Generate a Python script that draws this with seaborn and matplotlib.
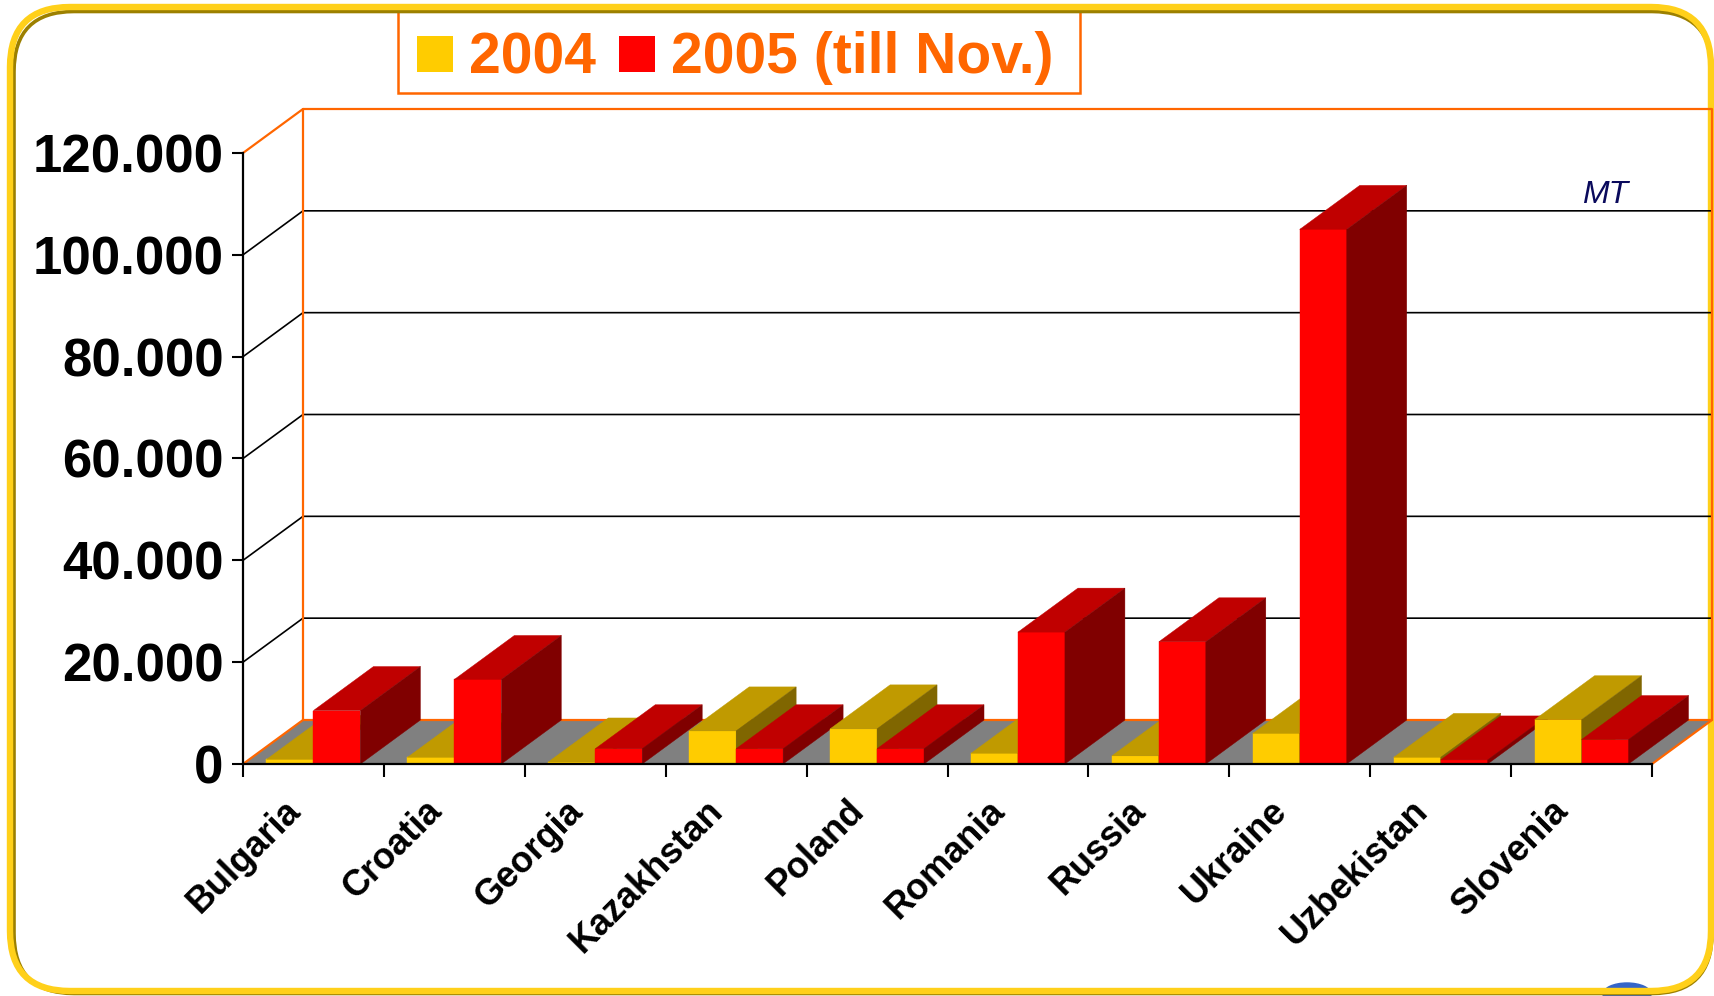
import numpy as np
import pandas as pd
import matplotlib.pyplot as plt
import seaborn as sns
from matplotlib.patches import Polygon, Rectangle, FancyBboxPatch, Ellipse
from matplotlib.transforms import ScaledTranslation

# Data (MT)
countries = ['Bulgaria', 'Croatia', 'Georgia', 'Kazakhstan', 'Poland',
             'Romania', 'Russia', 'Ukraine', 'Uzbekistan', 'Slovenia']
mt_2004 = [900, 1300, 400, 6500, 6900, 2100, 1600, 6000, 1300, 8700]
mt_2005 = [10500, 16600, 3000, 3000, 3000, 25900, 24000, 105000, 800, 4800]
years = ['2004', '2005 (till Nov.)']
y_ticks = [0, 20000, 40000, 60000, 80000, 100000, 120000]
y_tick_labels = ['0', '20.000', '40.000', '60.000', '80.000', '100.000', '120.000']

front_colors = ['#FFCC00', '#FF0000']
top_colors = ['#C09A00', '#C00000']
side_colors = ['#806600', '#800000']
orange = '#FF6600'

df = pd.DataFrame({
    'country': countries * 2,
    'year': [years[0]] * len(countries) + [years[1]] * len(countries),
    'mt': mt_2004 + mt_2005,
})

sns.set_style('white')
plt.rcParams['font.family'] = ['Liberation Sans', 'DejaVu Sans']
plt.rcParams['text.color'] = 'black'
plt.rcParams['xtick.color'] = 'black'
plt.rcParams['ytick.color'] = 'black'

W, H = 1715, 996
fig = plt.figure(figsize=(W / 100, H / 100), dpi=100)

# Background layer in pixel coordinates: rounded frame + legend
bg = fig.add_axes([0, 0, 1, 1])
bg.set_xlim(0, W)
bg.set_ylim(H, 0)
bg.axis('off')
bg.add_patch(Ellipse((1627, 994), 48, 22, color='#3565C8', zorder=1))
bg.add_patch(FancyBboxPatch((14, 11.5), 1698, 982, boxstyle='round,pad=0,rounding_size=60',
                            fill=False, ec='#9C8000', lw=2.6, zorder=2, clip_on=False))
bg.add_patch(FancyBboxPatch((10, 7), 1701, 984, boxstyle='round,pad=0,rounding_size=60',
                            fill=False, ec='#FFD01A', lw=4.6, zorder=3, clip_on=False))

# Legend
bg.add_patch(Rectangle((398, 8), 682, 85, fill=False, ec=orange, lw=1.8))
for i, (label, x_sq) in enumerate(zip(years, [417, 619])):
    bg.add_patch(Rectangle((x_sq, 36), 36, 36, color=front_colors[i], lw=0))
    bg.text(x_sq + 52, 73, label, color=orange, fontsize=41, fontweight='bold',
            va='baseline', ha='left')

# Main axes (front plane of the 3D chart)
x_left, x_right, y_zero, y_top = 243, 1652, 764, 153
ax = fig.add_axes([x_left / W, (H - y_zero) / H, (x_right - x_left) / W, (y_zero - y_top) / H])
ax.set_zorder(2)
ax.patch.set_alpha(0)

sns.barplot(data=df, x='country', y='mt', hue='year', order=countries, hue_order=years,
            palette=front_colors, saturation=1, width=2 / 3, legend=False,
            errorbar=None, linewidth=0, ax=ax)

ax.set_xlim(-0.5, len(countries) - 0.5)
ax.set_ylim(0, 120000)

# depth of the 3D effect, converted from pixels to data units
dx = 60 / ((x_right - x_left) / len(countries))
dy = 44 / ((y_zero - y_top) / 120000)
x0w, x1w = -0.5, len(countries) - 0.5
ymax = 120000

# floor
ax.add_patch(Polygon([(x0w, 0), (x1w, 0), (x1w + dx, dy), (x0w + dx, dy)],
                     closed=True, fc='#808080', ec='none', zorder=1, clip_on=False))
# back wall grid
for v in y_ticks[1:-1]:
    ax.plot([x0w, x0w + dx, x1w + dx], [v, v + dy, v + dy], color='black', lw=1.2,
            zorder=1.5, clip_on=False)
# orange wall / floor outline
ax.plot([x0w, x0w + dx, x1w + dx, x1w], [0, dy, dy, 0], color=orange, lw=1.6,
        zorder=1.6, clip_on=False)
ax.plot([x0w, x0w + dx, x0w + dx], [ymax, ymax + dy, dy], color=orange, lw=1.6,
        zorder=1.6, clip_on=False)
ax.plot([x0w + dx, x1w + dx, x1w + dx], [ymax + dy, ymax + dy, dy], color=orange, lw=1.6,
        zorder=1.6, clip_on=False)

# 3D faces for every bar, drawn left to right
for p in list(ax.patches):
    if not isinstance(p, Rectangle) or p.get_height() <= 0 or p.get_width() > 1:
        continue
    x0, w, h = p.get_x(), p.get_width(), p.get_height()
    k = 0 if p.get_facecolor()[1] > 0.5 else 1
    z = 3 + (x0 + 1) * 2
    p.set_zorder(z)
    p.set_edgecolor(front_colors[k])
    p.set_linewidth(0.3)
    top = Polygon([(x0, h), (x0 + w, h), (x0 + w + dx, h + dy), (x0 + dx, h + dy)],
                  closed=True, fc=top_colors[k], ec=top_colors[k], lw=0.3, zorder=z, clip_on=False)
    side = Polygon([(x0 + w, 0), (x0 + w, h), (x0 + w + dx, h + dy), (x0 + w + dx, dy)],
                   closed=True, fc=side_colors[k], ec=side_colors[k], lw=0.3, zorder=z, clip_on=False)
    ax.add_patch(top)
    ax.add_patch(side)

ax.text(9.0, 110200, 'MT', color='#0A0A5C', fontsize=23, fontstyle='italic',
        va='baseline', ha='left', zorder=2)

# axes styling
sns.despine(ax=ax, top=True, right=True)
for s in ['left', 'bottom']:
    ax.spines[s].set_color('black')
    ax.spines[s].set_linewidth(1.6)
    ax.spines[s].set_zorder(100)

ax.set_yticks(y_ticks, y_tick_labels)
ax.tick_params(axis='y', length=8, width=1.5, pad=6, labelsize=38, direction='out',
               left=True, colors='black')
for t in ax.get_yticklabels():
    t.set_fontweight('bold')

ax.set_xticks(range(len(countries)), countries)
ax.set_xticks(np.arange(-0.5, len(countries), 1), minor=True)
ax.tick_params(axis='x', which='major', length=0, pad=30, colors='black')
ax.tick_params(axis='x', which='minor', length=9, width=1.5, direction='out', bottom=True,
               colors='black')
shift = ScaledTranslation(-18 / 100, 0, fig.dpi_scale_trans)
for t in ax.get_xticklabels():
    t.set_rotation(45)
    t.set_ha('right')
    t.set_va('center')
    t.set_rotation_mode('anchor')
    t.set_fontsize(26)
    t.set_fontweight('bold')
    t.set_transform(t.get_transform() + shift)

ax.set_xlabel('')
ax.set_ylabel('')

fig.savefig('out.png', dpi=100)
